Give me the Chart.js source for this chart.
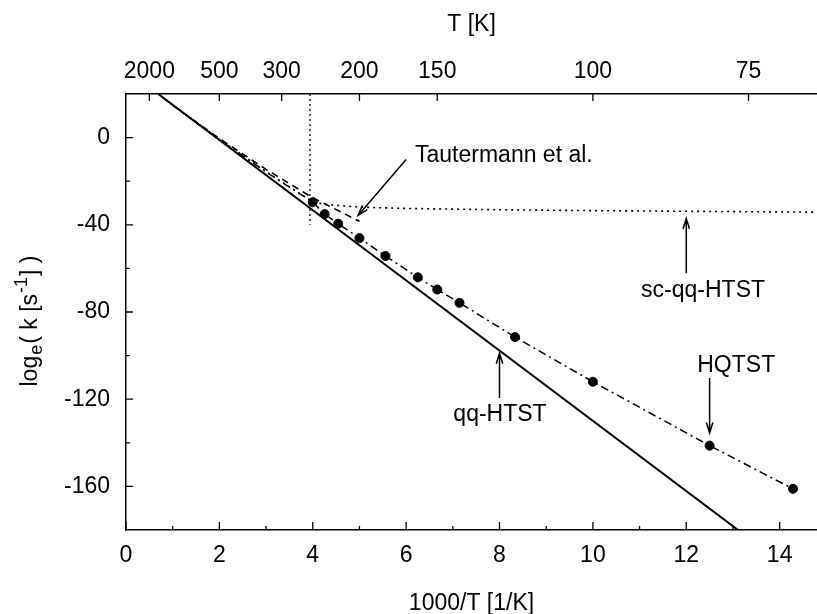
<!DOCTYPE html>
<html>
<head>
<meta charset="utf-8">
<script src="https://cdn.jsdelivr.net/npm/chart.js@4.4.1/dist/chart.umd.min.js"></script>
<style>
  html, body { margin: 0; padding: 0; background: #fff; overflow: hidden; }
  canvas { display: block; }
</style>
</head>
<body>
<canvas id="chart" width="817" height="614"></canvas>
<script>
// qq-HTST (straight Arrhenius line)
const qqX = [0.69, 13.11];
const qqY = [20, -180];

// Tautermann et al. (dashed, ends near 200 K)
const tautX = [1.0, 2.0, 3.0, 4.0, 5.0];
const tautY = [14.8, -0.4, -14.6, -27.6, -38.4];

// sc-qq-HTST (dotted, flattens below ~250 K)
const scX = [0.85, 2.0, 3.0, 3.5, 4.0, 4.25, 5.0, 6.0, 8.0, 10.0, 12.0, 14.8];
const scY = [17.5, -0.8, -15.6, -22.6, -29.4, -30.6, -31.9, -32.5, -33.1, -33.5, -33.8, -34.2];

// HQTST computed points
const hqX = [4.0, 4.255, 4.545, 5.0, 5.556, 6.25, 6.667, 7.143, 8.333, 10.0, 12.5, 14.286];
const hqY = [-29.6, -35.1, -39.5, -46.1, -54.3, -64.1, -69.7, -75.8, -91.5, -112.0, -141.3, -161.1];

// HQTST curve at high T (no markers)
const hqHighX = [0.85, 2.0, 3.0];
const hqHighY = [17.3, -1.0, -15.8];

// vertical marker
const vX = [3.94, 3.94];
const vY = [20, -40];

// axis ticks
const xTicks = [0, 2, 4, 6, 8, 10, 12, 14];
const xMinor = [1, 3, 5, 7, 9, 11, 13];
const yTicks = [-160, -120, -80, -40, 0];
const yMinor = [-140, -100, -60, -20];
const tTicks = [2000, 500, 300, 200, 150, 100, 75];

const FONT = "'Liberation Sans', Arial, Helvetica, sans-serif";
const fs = 23;

const pts = (xs, ys) => xs.map((x, i) => ({ x: x, y: ys[i] }));

const notes = [
    { text: "Tautermann et al.", x: 6.19, y: -8.2, align: "left", from: [6.0, -10], to: [4.97, -35.7] },
    { text: "sc-qq-HTST", x: 12.36, y: -70, align: "center", from: [12.0, -62.2], to: [12.0, -37.1] },
    { text: "qq-HTST", x: 8.01, y: -127.2, align: "center", from: [8.0, -119.5], to: [8.0, -98.9] },
    { text: "HQTST", x: 13.07, y: -104.8, align: "center", from: [12.5, -110.3], to: [12.5, -135.5] },
];

const arrow = (ctx, x0, y0, x1, y1) => {
    const a = Math.atan2(y1 - y0, x1 - x0);
    const h = 11;
    ctx.beginPath();
    ctx.moveTo(x0, y0);
    ctx.lineTo(x1, y1);
    ctx.moveTo(x1 - h * Math.cos(a - 0.3), y1 - h * Math.sin(a - 0.3));
    ctx.lineTo(x1, y1);
    ctx.lineTo(x1 - h * Math.cos(a + 0.3), y1 - h * Math.sin(a + 0.3));
    ctx.stroke();
};

const extras = {
    id: "extras",
    afterDraw(chart) {
        const ctx = chart.ctx;
        const xs = chart.scales.x;
        const ys = chart.scales.y;
        const area = chart.chartArea;
        ctx.save();
        ctx.strokeStyle = "#000";
        ctx.fillStyle = "#000";
        ctx.lineWidth = 1.3;

        // inward tick marks
        ctx.beginPath();
        xTicks.forEach((v) => {
            const p = xs.getPixelForValue(v);
            ctx.moveTo(p, area.bottom); ctx.lineTo(p, area.bottom - 8);
        });
        xMinor.forEach((v) => {
            const p = xs.getPixelForValue(v);
            ctx.moveTo(p, area.bottom); ctx.lineTo(p, area.bottom - 4);
        });
        tTicks.forEach((t) => {
            const p = xs.getPixelForValue(1000 / t);
            ctx.moveTo(p, area.top); ctx.lineTo(p, area.top + 7);
        });
        yTicks.forEach((v) => {
            const p = ys.getPixelForValue(v);
            ctx.moveTo(area.left, p); ctx.lineTo(area.left + 7, p);
        });
        yMinor.forEach((v) => {
            const p = ys.getPixelForValue(v);
            ctx.moveTo(area.left, p); ctx.lineTo(area.left + 4, p);
        });
        ctx.stroke();

        // labels with arrows
        ctx.font = fs + "px " + FONT;
        ctx.textBaseline = "middle";
        ctx.lineWidth = 1.5;
        notes.forEach((n) => {
            ctx.textAlign = n.align;
            ctx.fillText(n.text, xs.getPixelForValue(n.x), ys.getPixelForValue(n.y));
            arrow(ctx,
                xs.getPixelForValue(n.from[0]), ys.getPixelForValue(n.from[1]),
                xs.getPixelForValue(n.to[0]), ys.getPixelForValue(n.to[1]));
        });

        // y axis title with sub/superscript
        const small = Math.round(fs * 0.78);
        const parts = [
            { t: "log", f: fs, dy: 0 },
            { t: "e", f: small, dy: 6 },
            { t: "( k [s", f: fs, dy: 0 },
            { t: "-1", f: small, dy: -9 },
            { t: "] )", f: fs, dy: 0 },
        ];
        let total = 0;
        parts.forEach((p) => {
            ctx.font = p.f + "px " + FONT;
            p.w = ctx.measureText(p.t).width;
            total += p.w;
        });
        ctx.translate(31, (area.top + area.bottom) / 2 + 11);
        ctx.rotate(-Math.PI / 2);
        ctx.textAlign = "left";
        let cx = -total / 2;
        parts.forEach((p) => {
            ctx.font = p.f + "px " + FONT;
            ctx.fillText(p.t, cx, p.dy);
            cx += p.w + 1;
        });
        ctx.restore();
    },
};

const lineSet = (label, data, dash, width) => ({
    label: label,
    data: data,
    showLine: true,
    borderColor: "#000",
    backgroundColor: "#000",
    borderWidth: width,
    borderDash: dash,
    pointRadius: 0,
    pointHoverRadius: 0,
    tension: 0,
});

const data = {
    datasets: [
        lineSet("qq-HTST", pts(qqX, qqY), [], 2),
        lineSet("Tautermann et al.", pts(tautX, tautY), [7, 5], 1.6),
        lineSet("sc-qq-HTST", pts(scX, scY), [2, 4], 1.6),
        lineSet("HQTST line", pts(hqHighX, hqHighY).concat(pts(hqX, hqY)), [8, 4, 2, 4], 1.5),
        lineSet("marker", pts(vX, vY), [2, 3], 1.3),
        {
            label: "HQTST",
            data: pts(hqX, hqY),
            showLine: false,
            pointRadius: 4.5,
            pointHoverRadius: 4.5,
            pointBackgroundColor: "#000",
            pointBorderColor: "#000",
        },
    ],
};

const tickFont = { family: FONT, size: fs };

// fixed box sizes, no automatic label padding on the sides
const fixHeight = (h) => (s) => {
    s.height = h;
    s.paddingLeft = 0;
    s.paddingRight = 0;
};

const options = {
    responsive: false,
    animation: false,
    layout: { padding: 0, autoPadding: false },
    plugins: {
        legend: { display: false },
        tooltip: { enabled: false },
    },
    scales: {
        x: {
            type: "linear",
            position: "bottom",
            min: 0,
            max: 14.8,
            afterBuildTicks: (s) => { s.ticks = xTicks.map((v) => ({ value: v })); },
            afterFit: fixHeight(84),
            grid: { display: false, drawTicks: false },
            border: { display: true, color: "#000", width: 1.5 },
            ticks: { color: "#000", font: tickFont, padding: 12, maxRotation: 0 },
            title: {
                display: true,
                text: "1000/T [1/K]",
                color: "#000",
                font: { family: FONT, size: fs, lineHeight: 1 },
                padding: { top: 0, bottom: -1 },
            },
        },
        x2: {
            type: "linear",
            position: "top",
            min: 0,
            max: 14.8,
            afterBuildTicks: (s) => { s.ticks = tTicks.map((t) => ({ value: 1000 / t })); },
            afterFit: fixHeight(94),
            grid: { display: false, drawTicks: false },
            border: { display: true, color: "#000", width: 1.5 },
            ticks: {
                color: "#000",
                font: tickFont,
                padding: 9,
                maxRotation: 0,
                callback: (v) => String(Math.round(1000 / v)),
            },
            title: {
                display: true,
                text: "T [K]",
                color: "#000",
                font: { family: FONT, size: fs, lineHeight: 1 },
                padding: { top: 13, bottom: 0 },
            },
        },
        y: {
            type: "linear",
            min: -180,
            max: 20,
            afterBuildTicks: (s) => { s.ticks = yTicks.map((v) => ({ value: v })); },
            afterFit: (s) => { s.width = 126; s.paddingTop = 0; s.paddingBottom = 0; },
            grid: { display: false, drawTicks: false },
            border: { display: true, color: "#000", width: 1.5 },
            ticks: { color: "#000", font: tickFont, padding: 16 },
        },
    },
};

new Chart(document.getElementById("chart"), {
    type: "scatter",
    data: data,
    options: options,
    plugins: [extras],
});
</script>
</body>
</html>
